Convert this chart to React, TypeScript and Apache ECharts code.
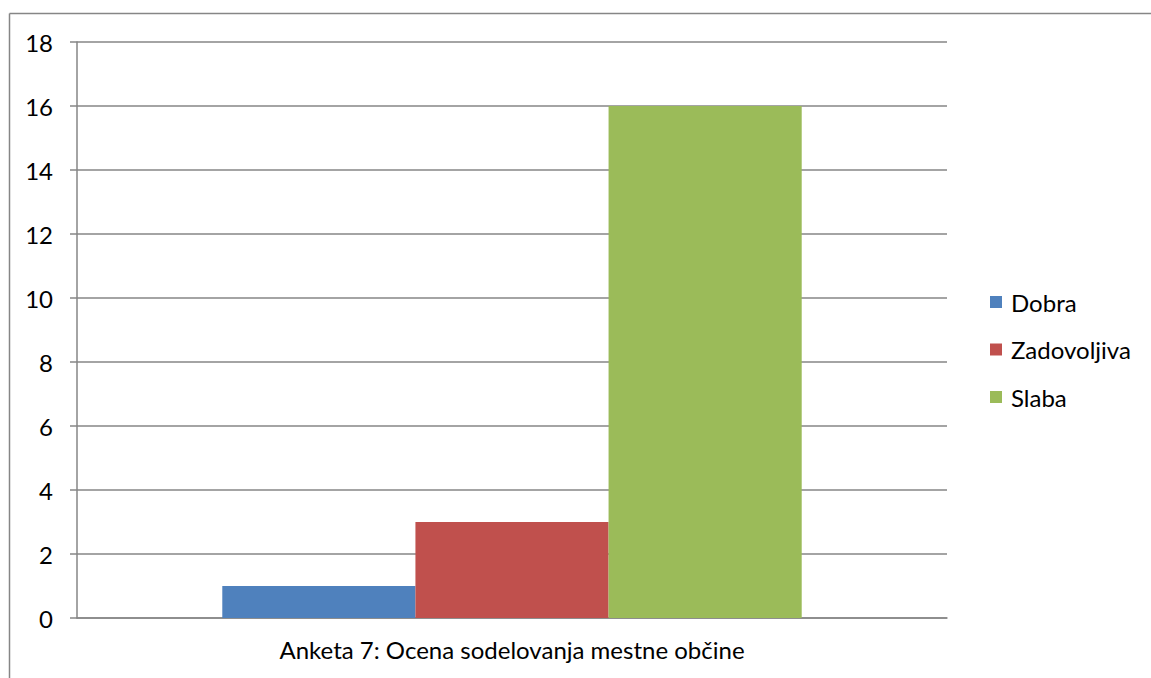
import React, { useEffect, useRef } from "react";
import * as echarts from "echarts";

const categories = ["Anketa 7: Ocena sodelovanja mestne občine"];
const seriesNames = ["Dobra", "Zadovoljiva", "Slaba"];
const dobra = [1];
const zadovoljiva = [3];
const slaba = [16];
const colors = ["#4F81BD", "#C0504D", "#9BBB59"];

const FONT = "Lato";

export default function App() {
  const ref = useRef<HTMLDivElement>(null);
  useEffect(() => {
    if (!ref.current) return;
    const chart = echarts.init(ref.current, undefined, { renderer: "svg" });
    const values = [dobra, zadovoljiva, slaba];
    chart.setOption({
      animation: false,
      backgroundColor: "#ffffff",
      textStyle: { fontFamily: FONT },
      graphic: [
        {
          type: "line",
          shape: { x1: 9.5, y1: 13.5, x2: 1151, y2: 13.5 },
          style: { stroke: "#868686", lineWidth: 1.5 },
          silent: true,
        },
        {
          type: "line",
          shape: { x1: 9.5, y1: 13.5, x2: 9.5, y2: 678 },
          style: { stroke: "#868686", lineWidth: 1.5 },
          silent: true,
        },
      ],
      grid: { left: 77, right: 204, top: 42, bottom: 60 },
      legend: {
        orient: "vertical",
        left: 990,
        top: 290,
        padding: 0,
        itemWidth: 12,
        itemHeight: 12,
        itemGap: 23.5,
        icon: "rect",
        textStyle: { fontFamily: FONT, fontSize: 24, color: "#000", lineHeight: 24, padding: [0, 0, 0, 4] },
        data: seriesNames,
      },
      xAxis: {
        type: "category",
        data: categories,
        axisLine: { lineStyle: { color: "#868686", width: 1.5 } },
        axisTick: { length: 8, lineStyle: { color: "#868686", width: 1.5 } },
        axisLabel: { color: "#000", fontFamily: FONT, fontSize: 24, margin: 19 },
      },
      yAxis: {
        type: "value",
        min: 0,
        max: 18,
        interval: 2,
        axisLine: { show: true, lineStyle: { color: "#868686", width: 1.5 } },
        axisTick: { show: true, length: 7, lineStyle: { color: "#868686", width: 1.5 } },
        splitLine: { lineStyle: { color: "#868686", width: 1.5 } },
        axisLabel: { color: "#000", fontFamily: FONT, fontSize: 24, margin: 24 },
      },
      series: seriesNames.map((name, i) => ({
        name,
        type: "bar",
        data: values[i],
        itemStyle: { color: colors[i] },
        barGap: "0%",
        barCategoryGap: "33.4%",
      })),
    });
    return () => chart.dispose();
  }, []);
  return (
    <div
      ref={ref}
      style={{ position: "fixed", left: 0, top: 0, width: 1151, height: 678 }}
    />
  );
}
